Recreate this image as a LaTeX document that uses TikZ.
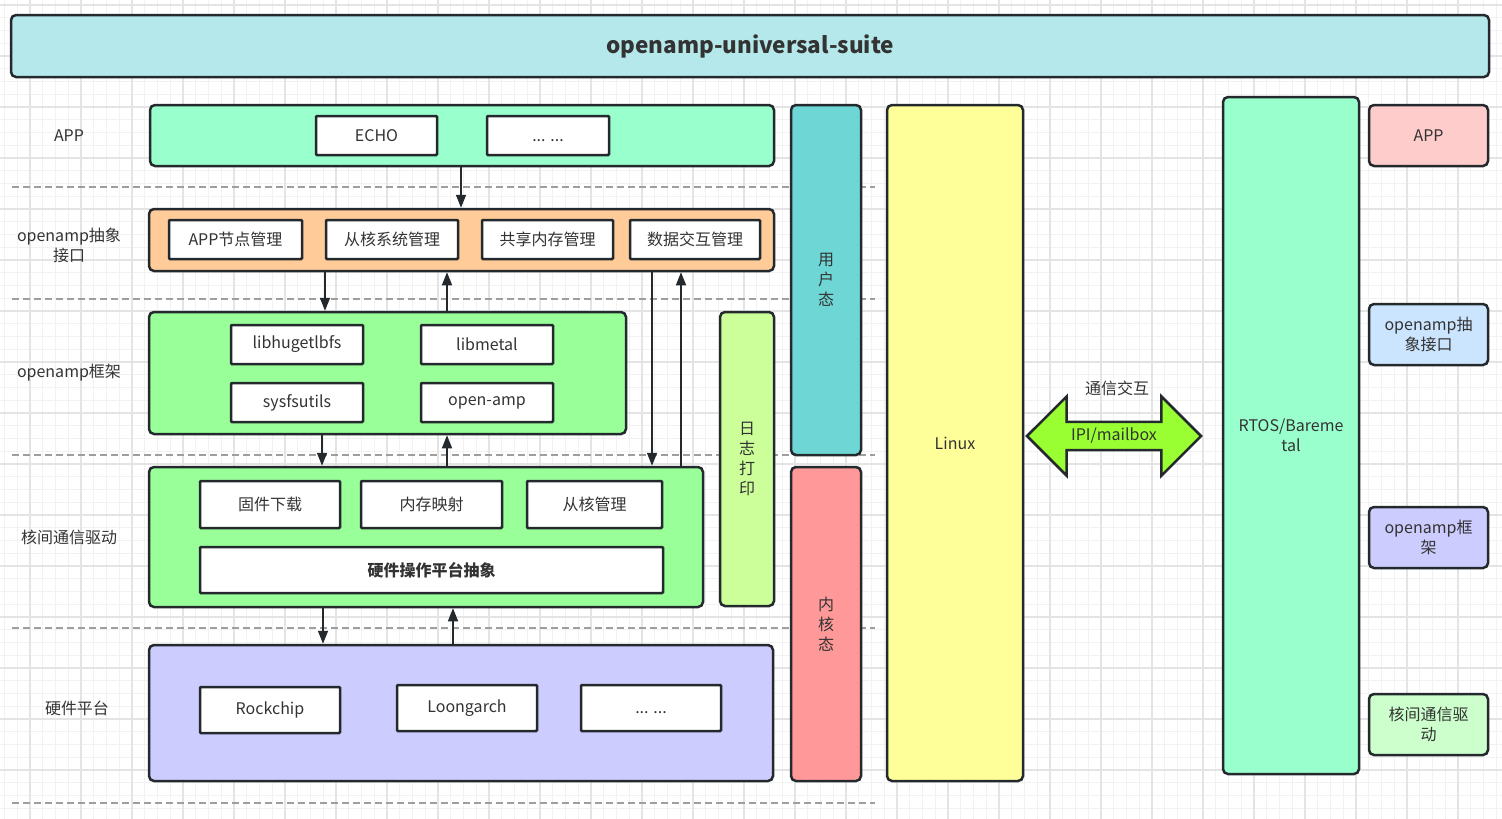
\documentclass[tikz,border=0pt]{standalone}
\usepackage{fontspec}
\setmainfont{Noto Sans CJK SC}
\usetikzlibrary{arrows.meta,shapes.arrows,positioning}

\definecolor{edge}{RGB}{36,41,46}
\definecolor{txt}{RGB}{51,51,51}
\definecolor{gridminor}{RGB}{242,242,242}
\definecolor{gridmajor}{RGB}{228,228,228}
\definecolor{titlec}{RGB}{181,232,234}
\definecolor{appc}{RGB}{153,255,204}
\definecolor{absc}{RGB}{255,204,153}
\definecolor{fwc}{RGB}{153,255,153}
\definecolor{logc}{RGB}{204,255,153}
\definecolor{hwc}{RGB}{204,204,255}
\definecolor{userc}{RGB}{111,214,214}
\definecolor{kernc}{RGB}{255,153,153}
\definecolor{linuxc}{RGB}{255,255,153}
\definecolor{ipic}{RGB}{153,255,51}
\definecolor{legapp}{RGB}{255,204,204}
\definecolor{legabs}{RGB}{204,229,255}
\definecolor{legdrv}{RGB}{204,255,204}

\begin{document}
\begin{tikzpicture}[x=1pt, y=-1pt, >={Triangle[length=13pt,width=10pt]},
    every node/.style={text=txt, font=\fontsize{16}{20}\selectfont},
    layer/.style={draw=edge, line width=2.5pt, rounded corners=5pt, inner sep=0pt, align=center},
    item/.style={draw=edge, fill=white, line width=2.5pt, rounded corners=1pt, inner sep=0pt},
    legend/.style={layer, minimum width=119pt, minimum height=61pt},
    flow/.style={->, draw=edge, line width=1.5pt},
    sep/.style={draw={rgb,255:red,158;green,158;blue,158}, line width=1.3pt, dash pattern=on 7pt off 4pt}]

  \useasboundingbox (0,0) rectangle (1502,819);

  % background grid
  \foreach \i in {0,...,117}
    \draw[gridminor, line width=1pt] ({4.5+12.75*\i},0) -- ({4.5+12.75*\i},819);
  \foreach \j in {0,...,63}
    \draw[gridminor, line width=1pt] (0,{5+12.75*\j}) -- (1502,{5+12.75*\j});
  \foreach \i in {0,...,29}
    \draw[gridmajor, line width=1.2pt] ({30+51*\i},0) -- ({30+51*\i},819);
  \foreach \j in {0,...,15}
    \draw[gridmajor, line width=1.2pt] (0,{5+51*\j}) -- (1502,{5+51*\j});

  % separators
  \foreach \y in {187,299,455,628,803}
    \draw[sep] (12,\y) -- (875,\y);

  \node[layer, fill=titlec, minimum width=1478pt, minimum height=62pt,
        font=\fontsize{22.5}{26}\selectfont\bfseries] (title) at (750,46) {openamp-universal-suite};

  % row labels
  \node (lapp) at (69,136) {APP};
  \node[align=center] (labs) at (69,245) {openamp抽象\\接口};
  \node (lfw) at (69,373) {openamp框架};
  \node (ldrv) at (69,537) {核间通信驱动};
  \node (lhw) at (77,708) {硬件平台};

  % APP
  \node[layer, fill=appc, minimum width=624pt, minimum height=61pt] (app) at (462,135.5) {};
  \node[item, minimum width=121pt, minimum height=39pt] (echo) at (376.5,135.5) {ECHO};
  \node[item, minimum width=122pt, minimum height=39pt] (appmore) at (548,135.5) {\vphantom{A}.{}.{}. .{}.{}.};

  % openamp abstract interface
  \node[layer, fill=absc, minimum width=625pt, minimum height=62pt] (abs) at (461.5,240) {};
  \node[item, minimum width=133pt, minimum height=39pt] (node) at (235.5,239.5) {APP节点管理};
  \node[item, minimum width=132pt, minimum height=39pt] (slave) at (392,239.5) {从核系统管理};
  \node[item, minimum width=131pt, minimum height=39pt] (shm) at (547.5,239.5) {共享内存管理};
  \node[item, minimum width=130pt, minimum height=39pt] (data) at (695,239.5) {数据交互管理};

  % openamp framework
  \node[layer, fill=fwc, minimum width=477pt, minimum height=122pt] (fw) at (387.5,373) {};
  \node[item, minimum width=132pt, minimum height=39pt] (huge) at (297,344.5) {libhugetlbfs};
  \node[item, minimum width=132pt, minimum height=39pt] (metal) at (487,344.5) {libmetal};
  \node[item, minimum width=132pt, minimum height=39pt] (sysfs) at (297,402.5) {sysfsutils};
  \node[item, minimum width=132pt, minimum height=39pt] (oamp) at (487,402.5) {open-amp};

  % inter-core driver
  \node[layer, fill=fwc, minimum width=554pt, minimum height=140pt] (drv) at (426,537) {};
  \node[item, minimum width=140pt, minimum height=47pt] (fwload) at (270,504.5) {固件下载};
  \node[item, minimum width=141pt, minimum height=47pt] (memmap) at (431.5,504.5) {内存映射};
  \node[item, minimum width=135pt, minimum height=47pt] (slvmgr) at (594.5,504.5) {从核管理};
  \node[item, minimum width=463pt, minimum height=46pt, font=\fontsize{16}{20}\selectfont\bfseries] (hal) at (431.5,570) {硬件操作平台抽象};

  \node[layer, fill=logc, minimum width=54pt, minimum height=294pt] (log) at (747,459) {日\\志\\打\\印};

  % hardware platform
  \node[layer, fill=hwc, minimum width=624pt, minimum height=136pt] (hw) at (461,713) {};
  \node[item, minimum width=140pt, minimum height=46pt] (rock) at (270,710) {Rockchip};
  \node[item, minimum width=140pt, minimum height=46pt] (loong) at (467,708) {Loongarch};
  \node[item, minimum width=140pt, minimum height=46pt] (hwmore) at (651,708) {\vphantom{A}.{}.{}. .{}.{}.};

  % modes and systems
  \node[layer, fill=userc, minimum width=70pt, minimum height=350pt] (user) at (826,280) {用\\户\\态};
  \node[layer, fill=kernc, minimum width=70pt, minimum height=314pt] (kern) at (826,624) {内\\核\\态};
  \node[layer, fill=linuxc, minimum width=136pt, minimum height=676pt] (linux) at (955,443) {Linux};
  \node[layer, fill=appc, minimum width=136pt, minimum height=677pt] (rtos) at (1291,435.5) {RTOS/Bareme\\tal};

  \node[double arrow, draw=edge, fill=ipic, line width=2.5pt, minimum height=174pt, minimum width=76pt,
        double arrow head extend=25.5pt, double arrow tip angle=90, inner xsep=0pt, inner ysep=5pt] (ipi) at (1114,436) {IPI/mailbox};
  \node (ipilabel) at (1117,388) {通信交互};

  % legend
  \node[legend, fill=legapp] (kapp) at (1428.5,135.5) {APP};
  \node[legend, fill=legabs] (kabs) at (1428.5,334.5) {openamp抽\\象接口};
  \node[legend, fill=hwc] (kfw) at (1428.5,537.5) {openamp框\\架};
  \node[legend, fill=legdrv] (kdrv) at (1428.5,724.5) {核间通信驱\\动};

  % calls between layers
  \draw[flow] (app.south -| 461,0) -- (abs.north -| 461,0);
  \draw[flow] (abs.south -| 325,0) -- (fw.north -| 325,0);
  \draw[flow] (fw.north -| 447,0) -- (abs.south -| 447,0);
  \draw[flow] (abs.south -| 652,0) -- (drv.north -| 652,0);
  \draw[flow] (drv.north -| 681,0) -- (abs.south -| 681,0);
  \draw[flow] (fw.south -| 322,0) -- (drv.north -| 322,0);
  \draw[flow] (drv.north -| 447,0) -- (fw.south -| 447,0);
  \draw[flow] (drv.south -| 323,0) -- (hw.north -| 323,0);
  \draw[flow] (hw.north -| 453,0) -- (drv.south -| 453,0);
\end{tikzpicture}
\end{document}
